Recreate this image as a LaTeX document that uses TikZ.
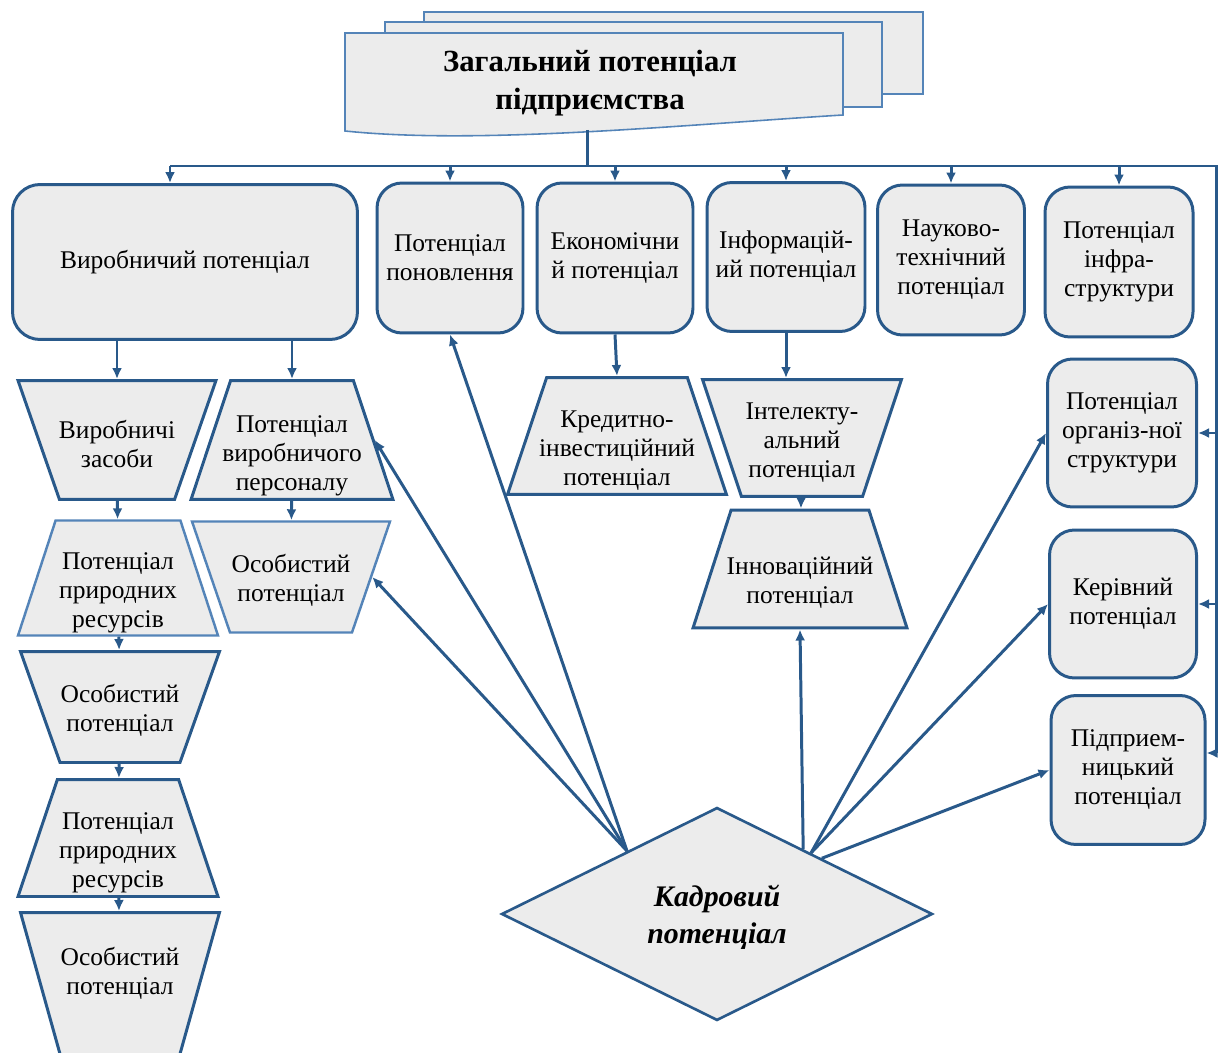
\documentclass[tikz,border=0pt]{standalone}
\usepackage{fontspec}
\setmainfont{Liberation Serif}
\usetikzlibrary{shapes.geometric,arrows.meta}

\definecolor{bordblue}{RGB}{41,89,138}
\definecolor{paleblue}{RGB}{84,132,184}
\definecolor{boxgray}{RGB}{236,236,236}

% centred lines of zero width, so that a trapezium keeps its own size
\newcommand{\ctxt}[2][0pt]{\makebox[0pt]{\raisebox{#1}[\height][\depth]{\begin{tabular}{@{}c@{}}#2\end{tabular}}}}

\begin{document}
\begin{tikzpicture}[
        x=0.02cm, y=-0.02cm,
        % define styles
        box/.style={
            rectangle, rounded corners=0.5cm,
            draw=bordblue, fill=boxgray, line width=1.7pt,
            inner sep=0pt, align=center,
            font=\fontsize{14.5}{16.5}\selectfont
        },
        trap/.style={
            trapezium, trapezium stretches body,
            draw=bordblue, fill=boxgray, line width=1.7pt,
            inner sep=0pt,
            font=\fontsize{14.5}{16.5}\selectfont
        },
        trapdown/.style={trap, shape border rotate=180},
        trapsize/.style 2 args={minimum width=#1, text height=#2, text depth=#2},
        faint/.style={draw=paleblue, line width=1.4pt},
        rhomb/.style={
            diamond, draw=bordblue, fill=boxgray, line width=1.5pt,
            inner sep=0pt,
            font=\bfseries\itshape\fontsize{17}{21}\selectfont
        },
        sheet/.style={draw=paleblue, fill=boxgray, line width=0.9pt},
        conn/.style={->, draw=bordblue, line width=1.7pt},
        >={Latex[length=0.22cm,width=0.2cm]}
    ]
    \useasboundingbox (0,0) rectangle (1222,1053);
    \clip (0,0) rectangle (1222,1053);

    % three sheets of the whole-enterprise block
    \draw[sheet] (424,12) rectangle (923,94);
    \draw[sheet] (385,22) rectangle (882,107);
    \draw[sheet] (345,33) -- (843,33) -- (843,115)
        .. controls (680,125) and (480,145) .. (345,131) -- cycle;
    \node[font=\bfseries\fontsize{17.5}{21.5}\selectfont, align=center] (zag) at (590,83)
        {Загальний потенціал\\підприємства};
    \coordinate (stem) at (587,130);

    % bus under the block
    \coordinate (busl) at (170,166);
    \coordinate (busr) at (1216,166);
    \coordinate (busend) at (1216,753);

    % top row
    \node[box, rounded corners=0.55cm, minimum width=6.9cm, minimum height=3.1cm] (vyr) at (185,262) {Виробничий потенціал};
    \node[box, minimum width=2.92cm, minimum height=3cm] (ponov) at (450,258) {Потенціал\\поновлення};
    \node[box, minimum width=3.12cm, minimum height=3cm] (ekon) at (615,258) {Економічни\\й потенціал};
    \node[box, minimum width=3.16cm, minimum height=2.98cm] (inform) at (786,257) {Інформацій-\\ий потенціал};
    \node[box, minimum width=2.94cm, minimum height=3cm] (nauk) at (951,260) {Науково-\\технічний\\потенціал};
    \node[box, minimum width=2.96cm, minimum height=3cm] (infra) at (1119,262) {Потенціал\\інфра-\\структури};

    % right column
    \node[box, minimum width=2.98cm, minimum height=2.96cm] (org) at (1122,433) {Потенціал\\організ-ної\\структури};
    \node[box, minimum width=2.94cm, minimum height=2.96cm] (ker) at (1123,604) {Керівний\\потенціал};
    \node[box, minimum width=3.08cm, minimum height=2.98cm] (pidpr) at (1128,770) {Підприем-\\ницький\\потенціал};

    % left columns
    \node[trapdown, trapezium angle=70.8, trapsize={3.96cm}{1.19cm}] (zasob) at (117,440) {\ctxt[-0.27cm]{Виробничі\\засоби}};
    \node[trap, trapezium angle=71.6, trapsize={4.04cm}{1.19cm}] (pers) at (292,440) {\ctxt[-0.44cm]{Потенціал\\виробничого\\персоналу}};
    \node[trap, faint, trapezium angle=71.9, trapsize={4cm}{1.15cm}] (prir1) at (118,578) {\ctxt[-0.42cm]{Потенціал\\природних\\ресурсів}};
    \node[trapdown, faint, trapezium angle=71.1, trapsize={3.96cm}{1.11cm}] (osob2) at (291,577) {\ctxt[-0.22cm]{Особистий\\потенціал}};
    \node[trapdown, trapezium angle=70.4, trapsize={3.98cm}{1.11cm}] (osob1) at (120,707) {\ctxt[-0.22cm]{Особистий\\потенціал}};
    \node[trap, trapezium angle=71.4, trapsize={4cm}{1.17cm}] (prir2) at (118,838) {\ctxt[-0.42cm]{Потенціал\\природних\\ресурсів}};
    \node[trapdown, trapezium angle=74.4, trapsize={3.98cm}{1.43cm}] (osob3) at (120,984) {\ctxt[0.07cm]{Особистий\\потенціал}};

    % middle
    \node[trap, trapezium angle=71.5, trapsize={4.38cm}{1.17cm}] (kred) at (617,436) {\ctxt[-0.42cm]{Кредитно-\\інвестиційний\\потенціал}};
    \node[trapdown, trapezium angle=71.6, trapsize={3.98cm}{1.17cm}] (intel) at (802,438) {\ctxt[-0.23cm]{Інтелекту-\\альний\\потенціал}};
    \node[trap, trapezium angle=72.1, trapsize={4.28cm}{1.18cm}] (innov) at (800,569) {\ctxt[-0.41cm]{Інноваційний\\потенціал}};

    \node[rhomb, minimum width=8.62cm, minimum height=4.26cm] (kadr) at (717,914) {\ctxt[-0.08cm]{Кадровий\\потенціал}};

    % block to bus and bus to the top row
    \draw[conn, -] (stem) -- (stem |- busl);
    \draw[conn, -] (busl) -- (busr) -- (busend);
    \draw[conn] (busl) -- (busl |- vyr.north);
    \foreach \n in {ponov, ekon, inform, nauk, infra}
        \draw[conn] (\n.north |- busl) -- (\n.north);

    % right side of the bus into the right column
    \draw[conn] (org.east -| busr) -- (org.east);
    \draw[conn] (ker.east -| busr) -- (ker.east);
    \draw[conn] (busend) -- (busend -| pidpr.east);

    % links down the columns
    \draw[conn] (vyr.south -| zasob) -- (zasob);
    \draw[conn] (vyr.south -| pers) -- (pers);
    \foreach \a/\b in {zasob/prir1, prir1/osob1, osob1/prir2, prir2/osob3, pers/osob2, intel/innov}
        \draw[conn] (\a) -- (\b);
    \draw[conn] (ekon.south) -- (kred.north);
    \draw[conn] (inform.south) -- (inform.south |- intel.north);

    % from the staff potential
    \foreach \t in {ponov.south, pers.east, osob2.east}
        \draw[conn] (kadr.145) -- (\t);
    \draw[conn] (kadr.37) -- (innov.south);
    \foreach \t in {org.west, ker.west}
        \draw[conn] (kadr.33) -- (\t);
    \draw[conn] (kadr.28) -- (pidpr.west);
\end{tikzpicture}
\end{document}
